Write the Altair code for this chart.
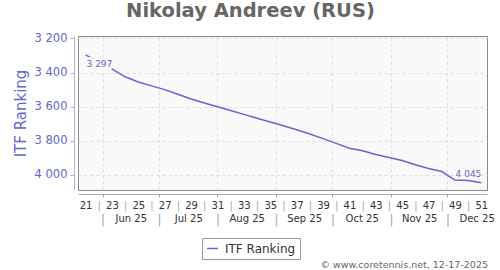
import altair as alt
import pandas as pd

# ---------------- data ----------------
weeks = [21, 22, 23, 24, 25, 26, 27, 28, 29, 30, 31, 32, 33, 34, 35, 36,
         37, 38, 39, 40, 41, 42, 43, 44, 45, 46, 47, 48, 49, 50, 51]
ranks = [3297, 3338, 3379, 3425, 3455, 3478, 3500, 3527, 3555, 3578, 3600,
         3622, 3645, 3668, 3690, 3712, 3735, 3760, 3787, 3815, 3843, 3858,
         3880, 3898, 3915, 3940, 3962, 3980, 4030, 4032, 4045]
series_name = "ITF Ranking"
month_starts = ["2025-06-01", "2025-07-01", "2025-08-01", "2025-09-01",
                "2025-10-01", "2025-11-01", "2025-12-01"]
month_labels = ["Jun 25", "Jul 25", "Aug 25", "Sep 25", "Oct 25", "Nov 25", "Dec 25"]
y_ticks = [3200, 3400, 3600, 3800, 4000]
title_text = "Nikolay Andreev (RUS)"
credit_text = "\u00a9 www.coretennis.net, 12-17-2025"

# ---------------- helpers ----------------
def ms(ts):
    return int(pd.Timestamp(ts).value // 10**6)

iso_week1 = pd.Timestamp("2024-12-30")  # Monday of ISO week 1, 2025
week_dates = [iso_week1 + pd.Timedelta(days=7 * (w - 1) + 4) for w in weeks]
week_ms = [ms(d) for d in week_dates]
x_start = ms(iso_week1 + pd.Timedelta(days=7 * (weeks[0] - 1)))
x_end = ms(iso_week1 + pd.Timedelta(days=7 * weeks[-1]))

m_start_ts = [pd.Timestamp(s) for s in month_starts]
m_start_ms = [ms(t) for t in m_start_ts]
m_mid_ms = [ms(t + pd.Timedelta(days=t.days_in_month / 2)) for t in m_start_ts]

df = pd.DataFrame({"date": week_ms, "rank": ranks, "series": series_name, "week": weeks})
first_df = df.iloc[[0]]
last_df = df.iloc[[-1]]

LINE = "#6666cc"
BG = "#f9f9f9"
W, H = 409, 154

xscale = alt.Scale(type="utc", domain=[x_start, x_end], nice=False)
yscale = alt.Scale(domain=[3186, 4088], reverse=True, nice=False, zero=False)

V = "time(datum.value)"
week_expr = ""
even_ms = []
for w, m in zip(weeks, week_ms):
    lab = str(w) if w % 2 == 1 else "|"
    if w % 2 == 0:
        even_ms.append(m)
    week_expr += f"{V} == {m} ? '{lab}' : "
week_expr += "''"

month_expr = ""
for m in m_start_ms:
    month_expr += f"{V} == {m} ? '|' : "
for m, lab in zip(m_mid_ms, month_labels):
    month_expr += f"{V} == {m} ? '{lab}' : "
month_expr += "''"

even_list = "[" + ",".join(str(m) for m in even_ms) + "]"
start_list = "[" + ",".join(str(m) for m in m_start_ms) + "]"
is_even = f"indexof({even_list}, {V}) >= 0"
is_start = f"indexof({start_list}, {V}) >= 0"

axis_main = alt.Axis(values=m_start_ms, orient="bottom", offset=4, labels=False,
                     ticks=True, tickSize=3, tickColor="#aaaaaa", domain=True,
                     domainColor="#aaaaaa", grid=True, gridColor="#dddddd",
                     gridDash=[3, 3], title=None)

axis_weeks = alt.Axis(values=week_ms, orient="bottom", offset=4, labels=True,
                      ticks=False, domain=False, grid=False, labelExpr=week_expr,
                      labelFontSize=10, labelPadding=6, labelFont="DejaVu Sans",
                      labelColor={"condition": {"test": is_even, "value": "#aaaaaa"},
                                  "value": "#333333"},
                      labelOverlap=False, labelFlush=False, title=None)

axis_months = alt.Axis(values=m_start_ms + m_mid_ms, orient="bottom", offset=20,
                       labels=True, ticks=False, domain=False, grid=False,
                       labelExpr=month_expr, labelPadding=3,
                       labelFontSize={"condition": {"test": is_start, "value": 13},
                                      "value": 10},
                       labelFont="DejaVu Sans",
                       labelColor={"condition": {"test": is_start, "value": "#aaaaaa"},
                                   "value": "#333333"},
                       labelOverlap=False, labelFlush=False, title=None)

y_axis = alt.Axis(values=y_ticks, title="ITF Ranking", titleColor=LINE,
                  titleFontSize=15, titleFontWeight="normal", titleFont="DejaVu Sans",
                  titlePadding=6,
                  labelExpr="replace(format(datum.value, ','), ',', ' ')",
                  labelColor=LINE, labelFontSize=11.5, labelPadding=3,
                  domainColor="#b0b0e0", tickColor="#b0b0e0", tickSize=4, offset=4,
                  grid=True, gridColor="#dddddd", gridDash=[3, 3])

legend = alt.Legend(title=None, orient="none", legendX=124, legendY=202,
                    strokeColor="#999999", fillColor="white", padding=4,
                    cornerRadius=0, symbolType="stroke", symbolStrokeWidth=1.5,
                    symbolSize=121, labelFontSize=12, labelColor="#333333",
                    labelOffset=6, labelFont="DejaVu Sans")

X = lambda ax: alt.X("date:T", scale=xscale, axis=ax, title=None)
Y = alt.Y("rank:Q", scale=yscale, axis=y_axis)

line = alt.Chart(df).mark_line(strokeWidth=1.5).encode(
    x=X(axis_main), y=Y,
    color=alt.Color("series:N", scale=alt.Scale(range=[LINE]), legend=legend),
)

lab_fmt = "replace(format(datum.rank, ','), ',', ' ')"

first_halo = alt.Chart(first_df).transform_calculate(lab=lab_fmt).mark_text(
    align="left", baseline="alphabetic", dx=1, dy=12, fontSize=9,
    stroke=BG, strokeWidth=6, strokeJoin="round", fill=BG
).encode(x=X(None), y=Y, text="lab:N")

first_lab = alt.Chart(first_df).transform_calculate(lab=lab_fmt).mark_text(
    align="left", baseline="alphabetic", dx=1, dy=12, fontSize=9, color=LINE
).encode(x=X(None), y=Y, text="lab:N")

last_lab = alt.Chart(last_df).transform_calculate(lab=lab_fmt).mark_text(
    align="right", baseline="alphabetic", dx=0, dy=-6, fontSize=9, color=LINE
).encode(x=X(None), y=Y, text="lab:N")

week_layer = alt.Chart(df).mark_rule(opacity=0).encode(x=X(axis_weeks))
month_layer = alt.Chart(df).mark_rule(opacity=0).encode(x=X(axis_months))

credit = alt.Chart(pd.DataFrame({"t": [credit_text]})).mark_text(
    align="right", baseline="alphabetic", fontSize=9.5, color="#666666"
).encode(x=alt.value(410), y=alt.value(232), text="t:N")

chart = alt.layer(
    line, first_halo, first_lab, last_lab, week_layer, month_layer, credit
).resolve_axis(x="independent").properties(
    width=W, height=H,
    title=alt.TitleParams(text=title_text, fontSize=19.5, fontWeight="bold",
                          color="#666666", anchor="middle", dx=-32, dy=17, offset=13,
                          baseline="alphabetic", font="DejaVu Sans"),
    autosize=alt.AutoSizeParams(type="none"),
    padding={"left": 78, "top": 36, "right": 13, "bottom": 80},
).configure(font="DejaVu Sans", background="white").configure_view(
    stroke="#888888", fill=BG, strokeWidth=1)

chart.save("out.html", embed_options={"renderer": "svg", "actions": False})
